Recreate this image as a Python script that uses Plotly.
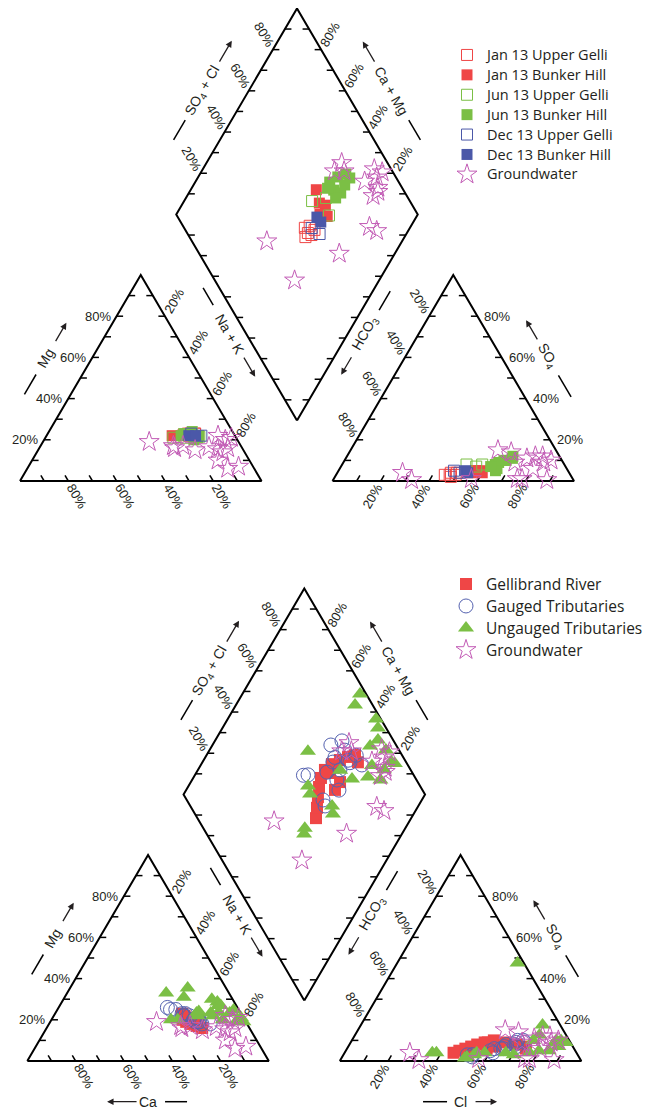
import math
import plotly.graph_objects as go

# ---------------- Top diagram: sampling rounds (% meq/L) ----------------
jan_ug_ca   = [21, 19, 16, 18, 19, 16]
jan_ug_mg   = [22.5, 22, 23, 23, 23, 23]
jan_ug_na   = [56.5, 59, 61, 59, 58, 61]
jan_ug_hco3 = [50, 50, 49, 52, 47.5, 46.5]
jan_ug_so4  = [3, 2, 4, 3, 3, 4]
jan_ug_cl   = [47, 48, 47, 45, 49.5, 49.5]

jan_bh_ca   = [26, 21.5, 17.5, 18.5, 15]
jan_bh_mg   = [22, 22, 23, 22, 22]
jan_bh_na   = [52, 56.5, 59.5, 59.5, 63]
jan_bh_hco3 = [36, 38, 36, 40.5, 38]
jan_bh_so4  = [5, 5, 4, 4, 5]
jan_bh_cl   = [59, 57, 60, 55.5, 57]

jun_ug_ca   = [26, 21, 15]
jun_ug_mg   = [21, 21, 21.5]
jun_ug_na   = [53, 58, 63.5]
jun_ug_hco3 = [40.5, 34, 37]
jun_ug_so4  = [8, 8, 7]
jun_ug_cl   = [51.5, 58, 56]

jun_bh_ca   = [22.3, 19.2, 17.6, 16.0, 16.7, 15.1, 18.0, 20.7, 16.4]
jun_bh_mg   = [22, 23, 22, 21, 24, 22, 20, 23, 21]
jun_bh_na   = [55.7, 57.8, 60.4, 63.0, 59.3, 62.9, 62.0, 56.3, 62.6]
jun_bh_hco3 = [28.6, 24.0, 20.0, 19.3, 28.9, 26.7, 30.0, 31.0, 23.1]
jun_bh_so4  = [8, 10, 11, 12, 6, 9, 5, 7, 10]
jun_bh_cl   = [63.4, 66.0, 69.0, 68.7, 65.1, 64.3, 65.0, 62.0, 66.9]

dec_ug_ca   = [17.6, 13.9]
dec_ug_mg   = [23, 22]
dec_ug_na   = [59.4, 64.1]
dec_ug_hco3 = [47.2, 45.4]
dec_ug_so4  = [5, 4]
dec_ug_cl   = [47.8, 50.6]

dec_bh_ca   = [19.1, 16.3]
dec_bh_mg   = [22, 22]
dec_bh_na   = [58.9, 61.7]
dec_bh_hco3 = [42.4, 42.0]
dec_bh_so4  = [5, 4]
dec_bh_cl   = [52.6, 54.0]

gw_ca   = [37, 20, 13, 11, 6, 28, 28, 24, 13.5, 7, 5, 10.5, 2, 9, 6]
gw_mg   = [19, 15, 10, 6, 7, 16, 17, 17, 16.5, 22, 20, 15.5, 21, 14, 16]
gw_na   = [44, 65, 77, 83, 87, 56, 55, 59, 70, 71, 75, 74, 77, 77, 78]
gw_hco3 = [69, 67, 42, 23, 21, 19, 24, 20, 14, 7, 4.5, 8, 10, 14, 11]
gw_so4  = [4, 0.5, 1, 1, 1, 14, 15, 9, 6, 12, 10, 9, 12, 11, 0.5]
gw_cl   = [27, 32.5, 57, 76, 78, 67, 61, 71, 80, 81, 85.5, 83, 78, 75, 88.5]

# ---------------- Bottom diagram: river, tributaries (% meq/L) ----------------
gr_ca   = [19.4, 23.5, 24.7, 25.7, 25.1, 24.4, 23.9, 23.6, 21.0, 19.6, 21.4, 20.2, 23.6, 19.6]
gr_mg   = [20, 18, 19, 20, 22, 23, 22, 20, 20, 19, 17, 18, 21, 16]
gr_na   = [60.6, 58.5, 56.3, 54.3, 52.9, 52.6, 54.1, 56.4, 59.0, 61.4, 61.6, 61.8, 55.4, 64.4]
gr_hco3 = [50.9, 48.0, 45.0, 42.1, 39.1, 35.5, 31.2, 26.9, 22.8, 19.4, 36.2, 32.2, 34.2, 20.0]
gr_so4  = [4, 5, 6, 7, 8, 9, 10, 9, 8, 7, 6, 7, 9, 6]
gr_cl   = [45.1, 47.0, 49.0, 50.9, 52.9, 55.5, 58.8, 64.1, 69.2, 73.6, 57.8, 60.8, 56.8, 74.0]

gt_ca   = [28.2, 29.0, 26.0, 24.4, 24.3, 19.2, 15.3, 21.2, 24.0, 21.0, 18.7, 20.9, 19.6, 18.8, 23.0, 21.9, 19.0]
gt_mg   = [25, 26, 25, 23, 22, 21, 18, 20, 22, 19, 18, 20, 19, 20, 23, 22, 19]
gt_na   = [46.8, 45.0, 49.0, 52.6, 53.7, 59.8, 66.7, 58.8, 54.0, 60.0, 63.3, 59.1, 61.4, 61.2, 54.0, 56.1, 62.0]
gt_hco3 = [43.7, 45.7, 27.0, 21.4, 28.3, 23.6, 19.0, 29.3, 35.2, 33.0, 34.6, 43.6, 44.2, 23.4, 30.3, 22.4, 19.0]
gt_so4  = [3, 3, 8, 10, 7, 8, 9, 6, 5, 6, 4, 3, 2, 7, 6, 9, 10]
gt_cl   = [53.3, 51.3, 65.0, 68.6, 64.7, 68.4, 72.0, 64.7, 59.8, 61.0, 61.4, 53.4, 53.8, 69.6, 63.7, 68.6, 71.0]

ut_ca   = [15.9, 19.7, 8.6, 7.0, 8.9, 7.5, 26.0, 2.2, 3.0, 3.0, 9.0, 4.6, 1.0, 12.0, 17.0, 30.5, 27.7, 12.4, 6.4, 18.3, 18.5, 1.0]
ut_mg   = [35.4, 31.0, 30.0, 28.6, 23.8, 27.0, 33.0, 24.8, 19.0, 20.0, 20.0, 23.3, 21.0, 22.0, 24.0, 20.0, 20.0, 23.3, 27.0, 23.3, 22.0, 19.0]
ut_na   = [48.7, 49.3, 61.4, 64.4, 67.3, 65.5, 41.0, 73.0, 78.0, 77.0, 71.0, 72.1, 78.0, 66.0, 59.0, 49.5, 52.3, 64.3, 66.6, 58.4, 59.5, 80.0]
ut_hco3 = [2.6, 7.3, 2.0, 3.4, 6.3, 11.0, 38.0, 5.4, 6.0, 11.0, 15.0, 19.4, 15.0, 26.5, 29.3, 46.4, 47.5, 41.3, 42.9, 58.0, 59.7, 5.0]
ut_so4  = [47.6, 17.5, 9.0, 10.0, 9.0, 12.6, 4.0, 10.0, 7.0, 5.0, 10.0, 4.0, 5.0, 3.0, 4.0, 2.0, 1.5, 4.0, 3.0, 4.0, 4.0, 9.0]
ut_cl   = [49.8, 75.2, 89.0, 86.6, 84.7, 76.4, 58.0, 84.6, 87.0, 84.0, 75.0, 76.6, 80.0, 70.5, 66.7, 51.6, 51.0, 54.7, 54.1, 38.0, 36.3, 86.0]

pct_ticks = [10, 20, 30, 40, 50, 60, 70, 80, 90]
pct_labels = [20, 40, 60, 80]

# ---------------- geometry (pixel-space axes) ----------------
S, H, G = 241.5, 206.0, 71.0
TOP = (20.0, 481.0)
BOT = (27.3, 1061.0)
TICK, LBL = 6.5, 17.5
PAGE_OFF = 8.0   # browser default body margin
INK = '#231f20'
PCT_FONT = dict(family='Liberation Sans, Arial, sans-serif', size=13, color=INK)
TTL_FONT = dict(family='Liberation Sans, Arial, sans-serif', size=14, color=INK)


def unit(v):
    l = math.hypot(v[0], v[1])
    return (v[0] / l, v[1] / l)


def sub(p, q):
    return (p[0] - q[0], p[1] - q[1])


def lerp(p, q, f):
    return (p[0] + f * (q[0] - p[0]), p[1] + f * (q[1] - p[1]))


def geom(x0, y0):
    g = {'BL': (x0, y0), 'BR': (x0 + S, y0), 'AP': (x0 + S / 2, y0 - H),
         'BL2': (x0 + S + G, y0), 'BR2': (x0 + 2 * S + G, y0), 'AP2': (x0 + 1.5 * S + G, y0 - H)}
    B = (x0 + S + G / 2, y0 - H * G / S)
    g['B'] = B
    g['L'] = (B[0] - S / 2, B[1] - H)
    g['R'] = (B[0] + S / 2, B[1] - H)
    g['T'] = (B[0], B[1] - 2 * H)
    return g


def project(origin, ca, mg, na, hco3, so4, cl):
    x0, y0 = origin
    B = geom(x0, y0)['B']
    cat, an, dia = [], [], []
    for a, b, c, d, e, f in zip(ca, mg, na, hco3, so4, cl):
        tc, ta = a + b + c, d + e + f
        mgf, naf, cmf = b / tc, c / tc, (a + b) / tc
        so4f, clf, scf = e / ta, f / ta, (e + f) / ta
        cat.append((x0 + S * (naf + mgf / 2), y0 - H * mgf))
        an.append((x0 + S + G + S * (clf + so4f / 2), y0 - H * so4f))
        dia.append((B[0] + S / 2 * (scf - cmf), B[1] - H * (cmf + scf)))
    pts = cat + an + dia
    return [p[0] for p in pts], [p[1] for p in pts]


def arrow(tail, head):
    return dict(x=head[0], y=head[1], ax=tail[0], ay=tail[1], xref='x', yref='y',
                axref='x', ayref='y', text='', showarrow=True, arrowhead=2,
                arrowsize=1, arrowwidth=1.3, arrowcolor=INK, standoff=0, startstandoff=0)


def frame(origin, with_ca_cl):
    g = geom(*origin)
    ox, oy, tx, ty, anns = [], [], [], [], []
    for poly in ([g['BL'], g['BR'], g['AP'], g['BL']],
                 [g['BL2'], g['BR2'], g['AP2'], g['BL2']],
                 [g['B'], g['L'], g['T'], g['R'], g['B']]):
        for p in poly:
            ox.append(p[0]); oy.append(p[1])
        ox.append(None); oy.append(None)
    RIGHT, LEFT = (1.0, 0.0), (-1.0, 0.0)
    # (start, end, tick direction, label direction (outward along iso-line), label mode)
    edges = [
        (g['BL'], g['AP'], RIGHT, LEFT, 'left'),
        (g['BR'], g['BL'], unit(sub(g['AP'], g['BR'])), unit(sub(g['BR'], g['AP'])), 'rot'),
        (g['AP'], g['BR'], LEFT, unit(sub(g['AP'], g['BL'])), 'rot'),
        (g['BR2'], g['AP2'], LEFT, RIGHT, 'right'),
        (g['BL2'], g['BR2'], unit(sub(g['AP2'], g['BL2'])), unit(sub(g['BL2'], g['AP2'])), 'rot'),
        (g['AP2'], g['BL2'], RIGHT, unit(sub(g['AP2'], g['BR2'])), 'rot'),
        (g['L'], g['T'], RIGHT, unit(sub(g['L'], g['B'])), 'rot'),
        (g['R'], g['T'], LEFT, unit(sub(g['R'], g['B'])), 'rot'),
        (g['L'], g['B'], RIGHT, None, None),
        (g['R'], g['B'], LEFT, None, None),
    ]
    for P0, P1, td, od, mode in edges:
        for v in pct_ticks:
            P = lerp(P0, P1, v / 100)
            tx += [P[0], P[0] + TICK * td[0], None]
            ty += [P[1], P[1] + TICK * td[1], None]
            if mode is None or v not in pct_labels:
                continue
            txt = f"{v}%"
            if mode == 'left':
                anns.append(dict(x=P[0] - 4, y=P[1], text=txt, xanchor='right', yanchor='middle'))
            elif mode == 'right':
                anns.append(dict(x=P[0] + 5, y=P[1], text=txt, xanchor='left', yanchor='middle'))
            else:
                ang = math.degrees(math.atan2(od[1], od[0]))
                if ang > 90:
                    ang -= 180
                elif ang <= -90:
                    ang += 180
                anns.append(dict(x=P[0] + LBL * od[0], y=P[1] + LBL * od[1], text=txt,
                                 textangle=ang, xanchor='center', yanchor='middle'))
    for a in anns:
        a.update(xref='x', yref='y', showarrow=False, font=PCT_FONT)

    def edge_title(P0, P1, nsign, off, dash, tpos, arr, text, ang):
        u = unit(sub(P1, P0))
        n = (nsign * u[1], -nsign * u[0])
        pt = lambda t: (P0[0] + t * u[0] + off * n[0], P0[1] + t * u[1] + off * n[1])
        d0, d1 = pt(dash[0]), pt(dash[1])
        tx.extend([d0[0], d1[0], None]); ty.extend([d0[1], d1[1], None])
        c = pt(tpos)
        anns.append(dict(x=c[0], y=c[1], xref='x', yref='y', text=text, showarrow=False,
                         textangle=ang, font=TTL_FONT, xanchor='center', yanchor='middle'))
        anns.append(arrow(pt(arr[0]), pt(arr[1])))

    edge_title(g['L'], g['T'], 1, 40, (63, 86), 120, (152, 178), 'SO<sub>4</sub> + Cl', -60)
    edge_title(g['R'], g['T'], -1, 40, (63, 86), 120, (152, 177), 'Ca + Mg', 60)
    edge_title(g['L'], g['B'], -1, 14, (77, 97), 131, (156, 180), 'Na + K', 60)
    edge_title(g['R'], g['B'], 1, 15, (80, 102), 129, (155, 177), 'HCO<sub>3</sub>', -60)
    edge_title(g['BL'], g['AP'], 1, 40, (77, 100), 119, (137, 160), 'Mg', -60)
    edge_title(g['BR2'], g['AP2'], -1, 40, (74, 99), 121, (139, 163), 'SO<sub>4</sub>', 60)

    if with_ca_cl:
        yb = g['BL'][1] + 40.7
        cx = (g['BL'][0] + g['BR'][0]) / 2
        tx.extend([cx + 17, cx + 39, None]); ty.extend([yb, yb, None])
        anns.append(dict(x=cx, y=yb, xref='x', yref='y', text='Ca', showarrow=False,
                         font=TTL_FONT, xanchor='center', yanchor='middle'))
        anns.append(arrow((cx - 10, yb), (cx - 41, yb)))
        cx2 = (g['BL2'][0] + g['BR2'][0]) / 2
        tx.extend([cx2 - 37.5, cx2 - 13.5, None]); ty.extend([yb, yb, None])
        anns.append(dict(x=cx2, y=yb, xref='x', yref='y', text='Cl', showarrow=False,
                         font=TTL_FONT, xanchor='center', yanchor='middle'))
        anns.append(arrow((cx2 + 13.5, yb), (cx2 + 36.5, yb)))
    return ox, oy, tx, ty, anns


fig = go.Figure()
annotations = []
for origin, wcc in ((TOP, False), (BOT, True)):
    ox, oy, tx, ty, anns = frame(origin, wcc)
    fig.add_trace(go.Scatter(x=ox, y=oy, mode='lines', line=dict(color='black', width=2),
                             hoverinfo='skip', showlegend=False))
    fig.add_trace(go.Scatter(x=tx, y=ty, mode='lines', line=dict(color='black', width=1.5),
                             hoverinfo='skip', showlegend=False))
    annotations += anns

RED, GREEN, BLUE, STAR = '#ef4646', '#7bbf45', '#4b58a8', '#c25bb5'

top_series = [
    ('Jan 13 Upper Gelli', (jan_ug_ca, jan_ug_mg, jan_ug_na, jan_ug_hco3, jan_ug_so4, jan_ug_cl),
     dict(symbol='square-open', size=11, color=RED, line=dict(width=1))),
    ('Jan 13 Bunker Hill', (jan_bh_ca, jan_bh_mg, jan_bh_na, jan_bh_hco3, jan_bh_so4, jan_bh_cl),
     dict(symbol='square', size=11, color=RED, line=dict(width=0))),
    ('Jun 13 Upper Gelli', (jun_ug_ca, jun_ug_mg, jun_ug_na, jun_ug_hco3, jun_ug_so4, jun_ug_cl),
     dict(symbol='square-open', size=11, color=GREEN, line=dict(width=1))),
    ('Jun 13 Bunker Hill', (jun_bh_ca, jun_bh_mg, jun_bh_na, jun_bh_hco3, jun_bh_so4, jun_bh_cl),
     dict(symbol='square', size=11, color=GREEN, line=dict(width=0))),
    ('Dec 13 Upper Gelli', (dec_ug_ca, dec_ug_mg, dec_ug_na, dec_ug_hco3, dec_ug_so4, dec_ug_cl),
     dict(symbol='square-open', size=11, color=BLUE, line=dict(width=1))),
    ('Dec 13 Bunker Hill', (dec_bh_ca, dec_bh_mg, dec_bh_na, dec_bh_hco3, dec_bh_so4, dec_bh_cl),
     dict(symbol='square', size=11, color=BLUE, line=dict(width=0))),
    ('Groundwater', (gw_ca, gw_mg, gw_na, gw_hco3, gw_so4, gw_cl),
     dict(symbol='star-open', size=15, color=STAR, line=dict(width=1))),
]
bot_series = [
    ('Gellibrand River', (gr_ca, gr_mg, gr_na, gr_hco3, gr_so4, gr_cl),
     dict(symbol='square', size=12, color=RED, line=dict(width=0))),
    ('Gauged Tributaries', (gt_ca, gt_mg, gt_na, gt_hco3, gt_so4, gt_cl),
     dict(symbol='circle-open', size=14, color='#5562b0', line=dict(width=1))),
    ('Ungauged Tributaries', (ut_ca, ut_mg, ut_na, ut_hco3, ut_so4, ut_cl),
     dict(symbol='triangle-up', size=14, color=GREEN, line=dict(width=0))),
    ('Groundwater', (gw_ca, gw_mg, gw_na, gw_hco3, gw_so4, gw_cl),
     dict(symbol='star-open', size=15, color=STAR, line=dict(width=1))),
]

# legend entry text size (legend row spacing follows the legend font size)
LEG_TXT = {'legend': 14.5, 'legend2': 15.5}

for origin, series, leg in ((TOP, top_series, 'legend'), (BOT, bot_series, 'legend2')):
    for name, data, mk in series:
        xs, ys = project(origin, *data)
        label = f'<span style="font-size:{LEG_TXT[leg]}px">{name}</span>'
        fig.add_trace(go.Scatter(x=xs, y=ys, mode='markers', name=label, marker=mk,
                                 legend=leg, legendgroup=leg + name))

FW, FH = 651, 1109
fig.update_layout(
    width=FW, height=FH, margin=dict(l=0, r=0, t=0, b=0),
    paper_bgcolor='white', plot_bgcolor='white',
    xaxis=dict(range=[PAGE_OFF, FW + PAGE_OFF], visible=False, fixedrange=True),
    yaxis=dict(range=[FH + PAGE_OFF, PAGE_OFF], visible=False, fixedrange=True),
    annotations=annotations,
    showlegend=True,
    legend=dict(x=439 / FW, y=1 - 32 / FH, xanchor='left', yanchor='top',
                font=dict(family='Open Sans', size=13, color=INK),
                bgcolor='rgba(0,0,0,0)', itemwidth=30, tracegroupgap=0),
    legend2=dict(x=438 / FW, y=1 - 560 / FH, xanchor='left', yanchor='top',
                 font=dict(family='Open Sans', size=14.6, color=INK),
                 bgcolor='rgba(0,0,0,0)', itemwidth=30, tracegroupgap=0),
)

fig.write_html('out.html')
